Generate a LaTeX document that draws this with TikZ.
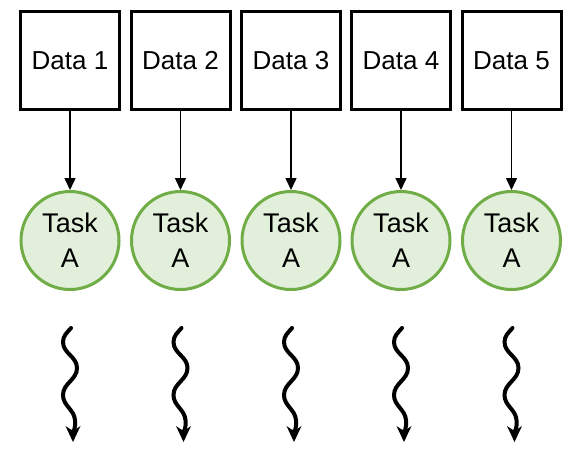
\documentclass[tikz,border=0pt]{standalone}
\usepackage{fontspec}
\setmainfont{Liberation Sans}
\usetikzlibrary{arrows.meta}
\definecolor{taskgreen}{HTML}{70AD47}
\definecolor{taskfill}{HTML}{E2EFDA}
\tikzset{
  databox/.style={draw=black, line width=3pt, minimum width=99pt, minimum height=98pt, inner sep=0pt, font=\fontsize{26}{31}\selectfont},
  taskcircle/.style={circle, draw=taskgreen, fill=taskfill, line width=3pt, minimum size=98pt, inner sep=0pt, align=center, font=\fontsize{27}{35}\selectfont},
  link/.style={line width=1.5pt, -{Triangle[length=12pt,width=11pt]}},
  wave/.style={line width=4pt, line cap=round, -{Stealth[length=16pt,width=15pt,inset=5pt,line width=0pt]}}
}
\begin{document}
\begin{tikzpicture}[x=1pt,y=-1pt]
\useasboundingbox (0,0) rectangle (588,459);
\foreach \i/\cx in {1/70,2/180.5,3/291,4/401,5/511.5}{
  \node[databox] (d\i) at (\cx,60.5) {Data \i};
  \node[taskcircle] (t\i) at (\cx,240.5) {Task\\A};
  \draw[link] (d\i) -- (t\i);
  \coordinate (w\i) at (\cx+1,328);
  \draw[wave] (w\i) to[out=230,in=90] ++(-8,14) to[out=-90,in=90] ++(14,26)
     to[out=-90,in=90] ++(-14,27) to[out=-90,in=95] ++(12,25) to[out=-85,in=90] ++(-2,22);
}
\end{tikzpicture}
\end{document}
